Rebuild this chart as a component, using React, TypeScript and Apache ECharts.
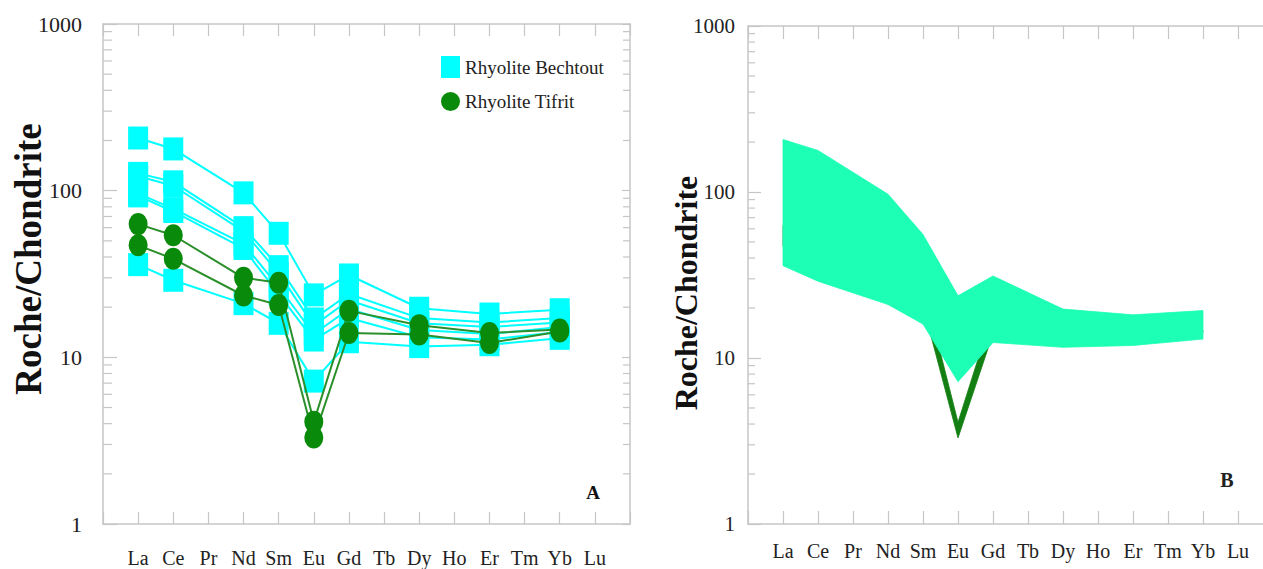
import React, { useEffect, useRef } from "react";
import * as echarts from "echarts";

// ---------- data ----------
const ELEMENTS = ["La", "Ce", "Pr", "Nd", "Sm", "Eu", "Gd", "Tb", "Dy", "Ho", "Er", "Tm", "Yb", "Lu"];
const MEASURED = ["La", "Ce", "Nd", "Sm", "Eu", "Gd", "Dy", "Er", "Yb"];

const bechtout1 = [207, 178, 97, 55.5, 23.7, 31.2, 19.7, 18.2, 19.3];
const bechtout2 = [127, 113, 60, 35, 17, 24, 17.2, 16.2, 17.2];
const bechtout3 = [122, 107, 57, 32, 15.5, 22, 16, 15.2, 16.2];
const bechtout4 = [96, 78, 48, 26.5, 13.8, 19.5, 14.6, 13.8, 15.2];
const bechtout5 = [93, 75, 45, 24, 12.7, 17.2, 13.2, 12.8, 14.2];
const bechtout6 = [36, 29, 21, 16, 7.2, 12.4, 11.6, 11.9, 13];
const BECHTOUT = [bechtout1, bechtout2, bechtout3, bechtout4, bechtout5, bechtout6];

const tifrit1 = [63, 54, 30, 28, 4.1, 19, 15.6, 14, 14.7];
const tifrit2 = [47, 39, 23.5, 20.6, 3.3, 14, 13.7, 12.2, 14.3];
const TIFRIT = [tifrit1, tifrit2];

const Y_TICKS_MULT = [2, 3, 4, 5, 6, 7, 8, 9];
const DECADES = [1, 10, 100];

const NAME_B = "Rhyolite Bechtout";
const NAME_T = "Rhyolite Tifrit";

// ---------- styles ----------
const SERIF = "'Liberation Serif', 'Times New Roman', serif";
const FRAME = "#c6c6c6";
const TEXT = "#222222";
const CYAN = "#00ffff";
const GREEN = "#0a8a0a";
const GREEN_LINE = "#2b8f2b";
const BAND = "#1cffb4";
const BAND_GREEN = "#137f13";
const ELLIPSE = "path://M10 0A10 10 0 1 1 10 20A10 10 0 1 1 10 0Z";

const xPos = (el: string) => ELEMENTS.indexOf(el) + 1;
const toPoints = (vals: number[]) => MEASURED.map((el, i) => [xPos(el), vals[i]]);
const minorValues = DECADES.flatMap((d) => Y_TICKS_MULT.map((m) => m * d));

const envelope = (samples: number[][]) => ({
  lo: MEASURED.map((_, i) => Math.min(...samples.map((s) => s[i]))),
  hi: MEASURED.map((_, i) => Math.max(...samples.map((s) => s[i]))),
});

function xAxis(gridIndex: number, position: string, labels: boolean, tickLen: number, margin: number) {
  return {
    type: "value",
    gridIndex,
    position,
    min: 0,
    max: 15,
    interval: 1,
    axisLine: { show: true, onZero: false, lineStyle: { color: FRAME, width: 1.5 } },
    axisTick: { show: true, inside: true, length: tickLen, lineStyle: { color: FRAME, width: 1.2 } },
    axisLabel: {
      show: labels,
      margin,
      fontFamily: SERIF,
      fontSize: 20,
      color: TEXT,
      formatter: (v: number) => (v >= 1 && v <= 14 ? ELEMENTS[v - 1] : ""),
    },
    splitLine: { show: false },
  };
}

function yAxis(gridIndex: number, position: string, labels: boolean, tickLen: number, margin: number, fontSize: number) {
  return {
    type: "log",
    logBase: 10,
    gridIndex,
    position,
    min: 1,
    max: 1000,
    axisLine: { show: true, onZero: false, lineStyle: { color: FRAME, width: 1.5 } },
    axisTick: { show: true, inside: true, length: tickLen, lineStyle: { color: FRAME, width: 1.2 } },
    axisLabel: { show: labels, margin, fontFamily: SERIF, fontSize, color: TEXT, formatter: (v: number) => String(Math.round(v)) },
    splitLine: { show: false },
  };
}

function minorTickSeries(xIdx: number, yIdx: number, leftLen: number, rightLen: number) {
  return {
    type: "custom",
    xAxisIndex: xIdx,
    yAxisIndex: yIdx,
    silent: true,
    clip: false,
    data: minorValues.map((v) => [0, v]),
    renderItem: (_p: any, api: any) => {
      const v = api.value(1);
      const l = api.coord([0, v]);
      const r = api.coord([15, v]);
      return {
        type: "group",
        children: [
          { type: "line", shape: { x1: l[0], y1: l[1], x2: l[0] + leftLen, y2: l[1] }, style: { stroke: FRAME, lineWidth: 1.2 } },
          { type: "line", shape: { x1: r[0] - rightLen, y1: r[1], x2: r[0], y2: r[1] }, style: { stroke: FRAME, lineWidth: 1.2 } },
        ],
      };
    },
  };
}

function bandSeries(samples: number[][], color: string, z: number) {
  const env = envelope(samples);
  const xs = MEASURED.map(xPos);
  return {
    type: "custom",
    xAxisIndex: 2,
    yAxisIndex: 2,
    silent: true,
    z,
    data: [[xs[0], env.lo[0]]],
    renderItem: (_p: any, api: any) => {
      const top = xs.map((x, i) => api.coord([x, env.hi[i]]));
      const bottom = xs.map((x, i) => api.coord([x, env.lo[i]])).reverse();
      return {
        type: "polygon",
        shape: { points: [...top, ...bottom] },
        style: { fill: color, stroke: color, lineWidth: 0.8 },
      };
    },
  };
}

function buildOption() {
  const bechtoutSeries = BECHTOUT.map((s) => ({
    type: "line",
    name: NAME_B,
    xAxisIndex: 0,
    yAxisIndex: 0,
    data: toPoints(s),
    symbol: "rect",
    symbolSize: [20, 23],
    itemStyle: { color: CYAN },
    lineStyle: { color: CYAN, width: 2 },
    z: 3,
  }));
  const tifritSeries = TIFRIT.map((s) => ({
    type: "line",
    name: NAME_T,
    xAxisIndex: 0,
    yAxisIndex: 0,
    data: toPoints(s),
    symbol: ELLIPSE,
    symbolSize: [19, 22],
    itemStyle: { color: GREEN },
    lineStyle: { color: GREEN_LINE, width: 2 },
    z: 4,
  }));

  return {
    animation: false,
    backgroundColor: "#ffffff",
    grid: [
      { left: 103, top: 24, width: 527, height: 500 },
      { left: 748, top: 26, width: 525, height: 498 },
    ],
    xAxis: [
      xAxis(0, "bottom", true, 12, 24),
      xAxis(0, "top", false, 12, 8),
      xAxis(1, "bottom", true, 13, 17),
      xAxis(1, "top", false, 13, 8),
    ],
    yAxis: [
      yAxis(0, "left", true, 14, 21, 22),
      yAxis(0, "right", false, 8, 8, 22),
      yAxis(1, "left", true, 13, 13, 21),
      yAxis(1, "right", false, 10, 8, 21),
    ],
    legend: {
      data: [
        { name: NAME_B, icon: "rect" },
        { name: NAME_T, icon: ELLIPSE },
      ],
      orient: "vertical",
      left: 436,
      top: 51,
      itemWidth: 19,
      itemHeight: 22,
      itemGap: 14,
      selectedMode: false,
      textStyle: { fontFamily: SERIF, fontSize: 19, color: TEXT },
    },
    graphic: [
      {
        type: "text",
        x: 28,
        y: 259,
        rotation: Math.PI / 2,
        style: { text: "Roche/Chondrite", font: `bold 37px ${SERIF}`, fill: "#111", align: "center", verticalAlign: "middle" },
      },
      {
        type: "text",
        x: 686,
        y: 293,
        rotation: Math.PI / 2,
        style: { text: "Roche/Chondrite", font: `bold 32px ${SERIF}`, fill: "#111", align: "center", verticalAlign: "middle" },
      },
      { type: "text", x: 593, y: 492, style: { text: "A", font: `bold 19px ${SERIF}`, fill: "#111", align: "center", verticalAlign: "middle" } },
      { type: "text", x: 1227, y: 480, style: { text: "B", font: `bold 20px ${SERIF}`, fill: "#222", align: "center", verticalAlign: "middle" } },
    ],
    series: [
      minorTickSeries(0, 0, 9, 7),
      minorTickSeries(2, 2, 7, 7),
      ...bechtoutSeries,
      ...tifritSeries,
      bandSeries(TIFRIT, BAND_GREEN, 2),
      bandSeries(BECHTOUT, BAND, 3),
    ],
  };
}

export default function App() {
  const ref = useRef<HTMLDivElement>(null);
  useEffect(() => {
    if (!ref.current) return;
    const chart = echarts.init(ref.current, null, { renderer: "svg" });
    chart.setOption(buildOption() as any);
    return () => chart.dispose();
  }, []);
  return (
    <div style={{ position: "fixed", left: 0, top: 0, width: 1263, height: 569, overflow: "hidden", background: "#ffffff" }}>
      <div ref={ref} style={{ width: 1290, height: 569 }} />
    </div>
  );
}
